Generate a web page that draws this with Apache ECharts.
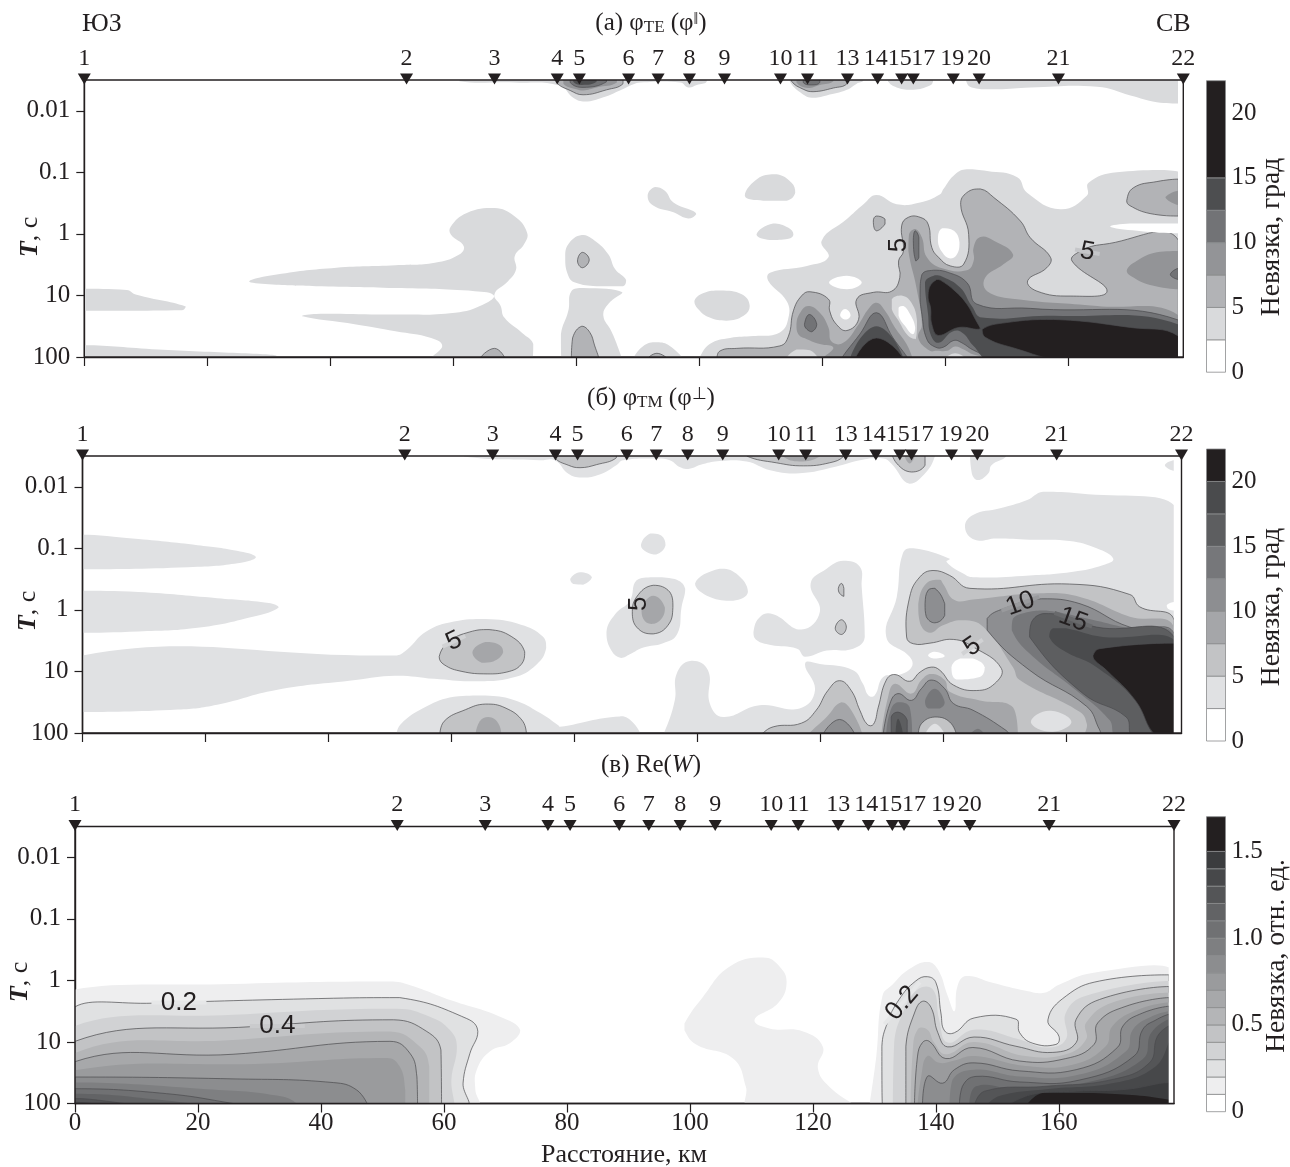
<!DOCTYPE html>
<html><head><meta charset="utf-8">
<style>html,body{margin:0;padding:0;background:#fff}#c{width:1290px;height:1167px}</style>
<script src="https://cdn.jsdelivr.net/npm/echarts@6/dist/echarts.min.js"></script>
</head><body><div id="c"></div>
<script>
// Each contour: [band index, [km, log10(T), km, log10(T), ...]]
const stationLabels=['1','2','3','4','5','6','7','8','9','10','11','13','14','15','17','19','20','21','22'];
const stationKm=[0,52.4,66.7,76.9,80.5,88.5,93.3,98.4,104.1,113.2,117.6,124.1,129,132.9,134.8,141.3,145.5,158.4,178.7];
const periodTicks=[-2,-1,0,1,2];
const periodLabels=['0.01','0.1','1','10','100'];
const kmTicks=[0,20,40,60,80,100,120,140,160];

const aEdges=[0,2.5,5,7.5,10,12.5,15,22.5];
const aTones=['#ffffff','#d9dadc','#b2b3b6','#939497','#727376','#4d4e50','#231f20'];
const aBarTicks=[0,5,10,15,20];
const bEdges=[0,2.5,5,7.5,10,12.5,15,17.5,20,22.5];
const bTones=['#ffffff','#e0e1e3','#c2c3c5','#a5a6a9','#8d8e91','#76777a','#5d5e60','#4a4b4d','#231f20'];
const bBarTicks=[0,5,10,15,20];
const cEdges=[0,.1,.2,.3,.4,.5,.6,.7,.8,.9,1,1.1,1.2,1.3,1.4,1.5,1.7];
const cTones=['#ffffff','#eeeeef','#e0e1e2','#d1d2d4','#c2c3c5','#b4b5b7','#a7a8aa','#9a9b9d','#8c8d8f','#7e7f81','#707173','#626365','#545557','#47484a','#3b3c3e','#231f20'];
const cBarTicks=[0,.5,1,1.5];

const aContours=[
[1,[0,.89,6.9,.91,8.5,.99,16.5,1.18,15.9,1.24,0,1.25]],
[1,[0,1.81,12,1.88,31.3,1.98,0,2.05]],
[1,[26.8,.77,31.3,.66,41,.55,50.6,.51,57,.47,60.9,.34,61.7,.2,59.6,.01,59.6,-.12,62.2,-.34,66.7,-.42,69.9,-.29,72,-.02,71.5,.17,70,.36,70.2,.58,68.9,.77,66.7,.98,67.7,1.17,68.3,1.36,71.2,1.61,73,1.79,72.8,2.05,56.4,2.05,58.2,1.82,56.4,1.69,50.6,1.58,44.2,1.47,35.5,1.34,37.7,1.3,50.6,1.31,60.3,1.28,64.8,1.15,66.6,1,63.5,.93,50.6,.88,37.7,.85,30,.82]],
[2,[64.2,2.05,66.7,1.86,68.5,2.05]],
[1,[80.9,.02,83,.11,85.2,.33,86.3,.57,88.1,.75,87.6,.85,83.3,.85,79.8,.79,78.7,.68,78.2,.38,78.7,.17]],
[2,[81,.3,82.1,.42,81,.55,80.2,.44]],
[1,[79.2,.93,81.1,.88,87.5,.95,85.2,1.14,84.4,1.33,85.7,1.58,86.8,1.85,87.3,2.04,77.6,2.04,77.5,1.63,78.7,1.25]],
[2,[79.2,2.04,79.4,1.69,80.9,1.5,82.2,1.6,83,1.82,83.7,2.04]],
[1,[89.2,2.04,90.9,1.82,93.1,1.76,95.2,1.82,97.4,2.04]],
[2,[91.5,2.04,93.1,1.94,94.9,2.04]],
[1,[91.6,-.62,92.8,-.76,94.4,-.7,95.8,-.51,99,-.37,99.5,-.32,98.2,-.25,95.8,-.35,92.5,-.46]],
[1,[99.2,1.09,100.7,.96,103.4,.92,106.9,.98,108.2,1.17,107.2,1.33,104.4,1.41,101.7,1.36,99.8,1.22]],
[1,[107.4,-.62,109.8,-.92,112.6,-.97,115,-.83,115.6,-.67,114.2,-.54,110.4,-.54]],
[1,[109.3,.01,112,-.17,114.5,-.1,115.3,.01,114.5,.08,111.5,.1]],
[1,[99.8,2.04,101.7,1.79,105,1.69,108.8,1.66,113.1,1.6,114.5,1.36,114.2,1.09,111.2,.76,111.5,.63,117.5,.52,121,.38,119.9,.11,124,-.24,126.7,-.48,128.8,-.63,132.1,-.48,135.9,-.51,139.1,-.64,139.7,-.73,141.6,-.97,143.5,-1.05,146.8,-1.02,151.7,-.92,153.3,-.67,158.7,-.4,163,-.62,163.3,-.83,167.9,-1,177.9,-1.01,177.9,2.05,99.8,2.05]],
[2,[128.3,-.21,128.8,-.29,130.2,-.24,130.2,-.16,128.8,-.05]],
[2,[102.8,2.04,103.4,1.9,106.1,1.86,113.1,1.82,114.5,1.66,115.3,1.25,116.6,1.01,118,.94,121,1.06,121.2,1.25,122.3,1.47,124,1.57,125.9,1.39,125.6,1.06,128.3,.95,131.3,.93,132.6,.71,132.4,.44,133.2,.28,132.9,-.13,134,-.27,135.9,-.27,137.2,-.16,137.8,.22,138.9,.38,140.8,.52,143,.49,143.8,.01,142.5,-.48,143.5,-.67,145.7,-.73,147.9,-.59,152.2,-.21,153.8,.06,157.1,.38,156.5,.55,153.4,.76,154.9,.93,160.3,1.01,166.3,.93,160.6,.44,162,.28,165.7,.17,177.9,.1,177.9,2.05,103,2.05]],
[2,[169.5,-.54,170.6,-.75,174.4,-.85,177.9,-.89,177.9,-.29,173.3,-.33,170,-.46]],
[3,[175.8,-.6,177.9,-.7,177.9,-.47,176.3,-.54]],
[1,[131.3,1.06,132.9,1,134.5,1.12,135.4,1.41,135.2,1.71,134,1.66,132.4,1.41,131.3,1.22]],
[1,[114,2.05,115.8,1.88,118,1.89,119.5,2.05]],
[1,[140.3,2,141.6,1.94,143,2]],
[0,[166.8,-.12,170,-.17,177.9,-.17,177.9,-.01,171.2,-.05]],
[0,[138.8,.09,139.5,-.09,141.4,-.05,142.3,.14,141.9,.33,140.8,.4,139.5,.3]],
[0,[121.1,.79,123.96,.68,126.4,.79,124,.9]],
[0,[122.9,1.32,123.7,1.22,124.6,1.32,123.8,1.39]],
[0,[132.4,1.2,133.2,1.17,134.3,1.31,135.1,1.52,134.7,1.63,133.4,1.49,132.4,1.33]],
[3,[115.8,1.47,116.4,1.28,117.7,1.17,119.6,1.28,121,1.52,121.5,1.75,123.4,1.77,125.9,1.47,127.5,1.22,128.8,1.12,130.2,1.25,131.8,1.52,133.7,1.79,134.7,2.04,120.2,2.04,121.8,1.85,119.6,1.79,117.5,1.71,116.1,1.63]],
[4,[117.1,1.47,117.9,1.31,119.1,1.47,118.3,1.59,117.5,1.55]],
[4,[123.1,2.05,126.1,1.63,128.8,1.28,131.5,1.69,134,2.05]],
[5,[124.5,2.05,128.8,1.5,133.2,2.05]],
[6,[125.3,2.05,128.8,1.69,133.2,2.05]],
[3,[134.1,.01,135.1,-.08,136.2,.06,137,.38,139.5,.56,143.5,.59,144.6,.44,144.6,.22,145.7,.05,147.9,.11,151,.33,149.5,.49,146.5,.71,146.8,.93,151.7,1.06,164.7,1.17,177.9,1.32,177.9,2.05,149.5,2.05,144.6,1.96,143,1.88,141.6,1.83,140.3,1.9,138.6,1.9,137.5,1.9,135.6,1.69,136.2,1.47,135.3,.87,134,.28]],
[3,[169.5,.6,171.1,.44,174.4,.3,177.9,.28,177.9,.9,173.3,.83,170.6,.71]],
[4,[176.6,.66,177.9,.56,177.9,.74]],
[4,[134.8,.11,135.1,-.05,135.7,.06,135.7,.38,135.2,.44]],
[4,[136.2,.66,138.1,.59,140,.61,143.5,.79,145.1,1.14,153.8,1.21,177.9,1.4,177.9,2.05,148.9,2.05,144.6,1.89,142.7,1.77,141.4,1.73,139.7,1.84,138.4,1.84,137,1.71,136.2,1.31,135.9,.98]],
[5,[136.7,.79,138.3,.67,139.2,.68,142.4,.87,144.3,1.17,146,1.36,157.6,1.33,177.9,1.47,177.9,2.05,147.3,2.05,144.6,1.82,142.7,1.6,141.1,1.59,138.9,1.77,137.6,1.63,137.2,1.31]],
[6,[137.4,.87,138.6,.74,139.2,.75,141.6,.93,143.5,1.14,144.9,1.39,145.7,1.54,142.2,1.52,138.9,1.65,137.8,1.47,137.6,1.2,137.2,1.04]],
[6,[146,1.55,150,1.44,157.6,1.39,170.1,1.52,177.9,1.66,177.9,2.05,159.2,2.05,151,1.85,146.5,1.68]],
[1,[61,-2.6,61,-2.48,70,-2.46,77.3,-2.41,79.5,-2.21,81.4,-2.15,84.4,-2.22,87.1,-2.33,89.3,-2.43,90.4,-2.46,96.9,-2.46,98.2,-2.38,99.6,-2.42,101.2,-2.47,101.2,-2.6]],
[2,[76.8,-2.46,79,-2.33,81.1,-2.26,84.9,-2.34,87.6,-2.44,87.6,-2.6,76.8,-2.6]],
[3,[77.9,-2.44,80,-2.35,81.1,-2.33,83.3,-2.38,86.6,-2.46,86.6,-2.6,77.9,-2.6]],
[4,[79,-2.46,81.1,-2.38,84.9,-2.47,84.9,-2.6,79,-2.6]],
[5,[79.5,-2.47,80.9,-2.42,83.3,-2.47,83.3,-2.6,79.5,-2.6]],
[1,[114.7,-2.48,116.4,-2.3,118.3,-2.21,120.7,-2.25,124,-2.34,125.6,-2.44,126.7,-2.49,126.7,-2.6,114.7,-2.6]],
[2,[115,-2.48,116.9,-2.35,118.5,-2.31,121.8,-2.37,124,-2.44,124,-2.6,115,-2.6]],
[3,[115.8,-2.46,117.7,-2.37,119.6,-2.42,121.8,-2.48,121.8,-2.6,115.8,-2.6]],
[4,[116.9,-2.46,118.3,-2.42,119.6,-2.46,119.6,-2.6,116.9,-2.6]],
[1,[130.7,-2.48,132.1,-2.38,134.8,-2.34,137.5,-2.41,138,-2.48,138,-2.6,130.7,-2.6]],
[1,[143.4,-2.48,144.3,-2.38,148.4,-2.35,153.8,-2.38,164.7,-2.39,170.1,-2.25,174.4,-2.14,177.9,-2.12,177.9,-2.6,143.4,-2.6]]
];
// Contour captions: [km, log10(T), text, tilt, tone of the break in the line]
const aNotes=[[132.5,.18,'5',90,null],[163.1,.29,'5',-10,'#c5c6c9']];

const bContours=[
[1,[0,-1.22,9.1,-1.15,18.7,-1.05,25.1,-.96,28.2,-.86,26.4,-.78,18.7,-.7,0,-.66]],
[1,[0,-.31,9.1,-.29,21.9,-.19,30.3,-.11,31.9,-.04,27.7,.11,18.7,.29,9.1,.35,0,.37]],
[1,[0,.74,50.8,.74,52.7,.65,55.9,.35,60.4,.19,65.5,.15,71.3,.24,74.8,.43,75.4,.62,73.8,.89,70,1.1,63.6,1.16,57.2,1.12,50.8,1.07,44.4,1.14,31.5,1.3,21.9,1.54,15.5,1.62,0,1.66]],
[2,[58,.76,59.7,.51,62.9,.36,66.1,.32,69.7,.43,71.9,.68,71.3,.89,69,1.01,65.8,1.04,61.7,1,58.8,.89]],
[3,[63.4,.69,65.5,.52,67.8,.57,68.4,.69,66.8,.84,64.9,.86]],
[1,[51.7,1.86,55.9,1.57,60.4,1.41,65.5,1.39,70,1.46,74.5,1.68,77.4,1.88,77.6,1.9,87.4,1.73,89.5,1.83,90.9,2.05,51,2.05]],
[2,[58.1,2.05,58.8,1.81,62.3,1.62,65.5,1.53,68.7,1.59,71.6,1.81,72.2,2.05]],
[3,[63.9,2.05,64.6,1.81,66,1.74,67.6,1.84,68.1,2.05]],
[1,[79.3,-.5,80.9,-.61,82.8,-.53,81.4,-.41,79.8,-.42]],
[1,[90.8,-1.05,92.3,-1.24,94.1,-1.21,94.8,-1.05,93.3,-.9,91.7,-.94]],
[1,[85.2,.36,86.6,.07,89,-.15,90.1,-.48,92.8,-.53,96.3,-.5,98,-.34,97.4,-.04,96.7,.39,94.4,.54,91.2,.61,89,.72,87.6,.78,86,.66]],
[2,[89.4,.07,90.1,-.21,92.8,-.4,95.5,-.29,96,-.04,95.2,.25,92.8,.39,90.4,.31]],
[3,[90.9,-.02,92.8,-.23,94.7,-.04,94.1,.15,92.5,.23,91.2,.15]],
[1,[99.6,-.43,103.6,-.67,106.3,-.59,108.2,-.29,105.8,-.15,102,-.21]],
[1,[109.1,.36,110.2,.11,112.3,.07,116.9,.32,119.9,.03,118.4,-.43,121,-.67,123.7,-.8,126.4,-.7,126.7,-.37,127.2,.44,125.3,.63,121,.66,117.5,.76,116.2,.63,111.9,.57,109.6,.49]],
[2,[122.9,-.35,123.4,-.43,123.8,-.35,123.8,-.22,123.1,-.27]],
[2,[122.4,.3,123.4,.16,124.2,.28,123.4,.4]],
[1,[94.4,2.04,96.3,1.47,96.6,1.04,98.8,.83,101.7,.98,102,1.52,104.2,1.74,110.1,1.55,116.6,1.6,119.1,1.31,117.5,.87,119.9,.88,125.3,.98,126.9,1.2,127.8,1.39,128.8,1.39,130.2,1.09,132.6,1.06,134.8,.93,134.5,.76,130.7,.44,132.4,-.21,133.4,-.92,135.1,-1,141,-.83,140.5,-.78,143.2,-.59,144.8,-.53,154,-.56,161.1,-.62,166,-.73,167.6,-.83,164.9,-1,160.5,-1.12,154,-1.14,148.6,-1.16,145.1,-1.14,143.5,-1.34,144.8,-1.54,149.2,-1.65,153.5,-1.78,156.2,-1.92,162.2,-1.89,177.5,-1.7,177.5,2.05,94,2.05]],
[0,[176.3,-.08,177.5,-.13,177.5,.01,176.5,-.02]],
[0,[137.5,.74,138.6,.68,140.2,.75,138.6,.79]],
[0,[141.3,.93,142.7,.79,144.8,.79,146.7,.93,145.9,1.09,142.1,1.13]],
[2,[110.1,2.04,112.3,1.9,116.9,1.84,119.3,1.63,121.2,1.31,123.1,1.15,125,1.31,126.4,1.63,127.6,1.86,128.6,1.86,129.4,1.58,130.7,1.14,132.1,1.05,134.5,1.16,136.2,1.01,138,.93,139.4,.98,141.6,1.22,145.4,1.31,148.3,1.2,149.4,.95,144.8,.6,141.6,.48,137.8,.54,135.1,.55,134,.44,134.5,-.21,136.2,-.54,138.3,-.64,141,-.56,144.3,-.35,160.5,-.42,170.3,-.25,171.9,-.05,177.5,.17,177.5,2.05,110,2.05]],
[1,[154.2,1.82,157.2,1.64,160.8,1.82,157.5,1.98]],
[3,[135.9,-.1,137.2,-.43,139.4,-.49,139.9,-.43,141.8,-.16,144.8,-.17,155.7,-.27,162.2,-.21,170.3,.11,177.5,.29,177.5,2.05,163.3,2.05,163.3,1.85,162.2,1.66,152.4,1.14,151.3,.93,146.5,.28,143.2,.17,139.9,.25,137.8,.37,136.2,.22]],
[4,[137,-.1,137.5,-.32,138.6,-.35,140.2,-.1,140.2,.09,138.6,.21,137.2,.11]],
[4,[155.9,-.18,162.2,-.1,170.3,.28,177.5,.39,177.5,2.05,166,2.05,165.4,1.95,163.3,1.57,154,.98,147.1,.33,147.1,.14,149.8,-.02]],
[5,[151.3,.14,154,.03,156.7,.01,163.3,.14,170.3,.3,177.5,.41,177.5,2.05,168.1,2.05,167,1.79,161.6,1.31,154,.71,151.1,.33]],
[6,[154.3,.2,156.2,.06,159.5,.09,164.9,.28,177.5,.44,177.5,2.05,170.8,2.05,169.7,1.74,162.7,1.36,154,.44]],
[7,[157.2,.44,157.8,.3,159.9,.3,165.9,.44,177.5,.49,177.5,2.05,174.4,2.05,171.7,1.52,164.9,.93,159.5,.66]],
[8,[164.3,.74,165.4,.63,177.5,.54,177.5,2.05,174.6,2.05,171.2,1.47,166.5,.98,164.6,.82]],
[3,[118,2.04,121,1.74,123.4,1.5,125,1.63,126.8,2.04]],
[4,[120.4,2.04,123.1,1.78,125.6,2.04]],
[3,[129.9,2.04,131,1.41,132.1,1.2,134.8,1.36,136.4,1.14,138,1.04,140.2,1.14,141,1.33,145.9,1.47,151.3,1.58,152.1,2.04]],
[4,[130.2,2.04,131.3,1.52,132.6,1.36,134.8,1.47,136.4,1.28,138,1.14,140.2,1.28,141.6,1.52,144.8,1.63,150.2,1.96,150.8,2.04]],
[5,[130.7,2.04,131.4,1.63,132.6,1.5,134.5,1.58,134.9,2.04]],
[5,[137,1.47,138.6,1.28,140.2,1.5,139.4,1.6,137.5,1.6]],
[6,[131.5,2.04,131.5,1.74,132.6,1.66,134.1,1.79,134.1,2.04]],
[7,[132.2,2.04,132.6,1.77,133.4,2.04]],
[2,[135.9,2.04,136.4,1.85,138.6,1.74,141,1.82,142.1,2.04]],
[1,[137,2.04,138.6,1.85,140.2,2.04]],
[5,[144.3,2.04,145.6,1.93,146.7,2.04]],
[1,[62,-2.6,62,-2.49,74.4,-2.43,76.8,-2.43,79,-2.21,81.1,-2.15,84.1,-2.2,86.8,-2.35,87.9,-2.43,93.1,-2.46,95.5,-2.43,97.1,-2.32,98.5,-2.29,100.9,-2.37,103.6,-2.42,108,-2.41,111.8,-2.27,116.6,-2.22,122.6,-2.33,126.4,-2.43,130.2,-2.46,131.5,-2.38,134.5,-2.05,137.2,-2.24,138.6,-2.49,138.6,-2.6]],
[1,[144.3,-2.6,144.6,-2.22,145.6,-2.11,147.3,-2.22,147.8,-2.35,150.2,-2.49,150.2,-2.6]],
[1,[176,-2.35,177.5,-2.43,177.5,-2.26]],
[2,[76.8,-2.47,79,-2.35,80.9,-2.31,83.6,-2.36,86.8,-2.47,86.8,-2.6,76.8,-2.6]],
[2,[108,-2.5,112.8,-2.39,117.2,-2.34,121.5,-2.39,123.7,-2.49,123.7,-2.6,108,-2.6]],
[3,[113.9,-2.49,116.6,-2.41,119.9,-2.49,119.9,-2.6,113.9,-2.6]],
[2,[131.5,-2.6,132.4,-2.38,134.8,-2.24,137,-2.35,137,-2.6]],
[3,[133.4,-2.6,134.5,-2.38,135.6,-2.6]]
];
const bNotes=[[60.4,.51,'5',25,'#d1d2d4'],[90.4,-.1,'5',90,null],[152.5,-.1,'10',20,'#999a9d'],[161.1,.16,'15',-20,'#696a6c'],[144.7,.6,'5',35,'#d1d2d4']];

const cContours=[
[1,[0,.15,25.7,.06,51.2,.02,54.5,.08,61,.32,69.1,.59,72.4,.81,70.7,1.02,67.5,1.15,65.3,1.46,65.1,1.78,65.5,2.05,0,2.05]],
[2,[0,.43,12.7,.37,42,.29,52.8,.28,63.7,.62,65.5,.83,64.2,1.19,63.1,1.67,63.5,2.05,0,2.05]],
[3,[0,.74,25.7,.56,52.3,.46,57.7,.59,61,.81,62.1,1.08,61.2,1.62,61.5,2.05,0,2.05]],
[4,[0,.99,29,.75,51.8,.64,57.2,.83,59.5,1.13,59.6,2.05,0,2.05]],
[5,[0,1.18,25.7,.97,51.2,.83,56.1,1.08,57.6,1.4,57.6,2.05,0,2.05]],
[6,[0,1.32,25.7,1.2,51.2,.99,54.5,1.19,55.6,1.57,55.7,2.05,0,2.05]],
[7,[0,1.46,31.2,1.35,50.7,1.26,52.8,1.4,53.7,1.78,53.7,2.05,0,2.05]],
[8,[0,1.57,25.7,1.6,42,1.66,45.8,1.78,47.7,2.05,0,2.05]],
[9,[0,1.66,20.3,1.76,33.9,1.89,36.6,2.05,0,2.05]],
[10,[0,1.76,14.9,1.84,25.7,2,27.9,2.05,0,2.05]],
[11,[0,1.84,14.9,1.95,21.4,2.05,0,2.05]],
[12,[0,1.92,4.1,1.95,10.6,2.05,0,2.05]],
[13,[0,1.97,5.7,2.05,0,2.05]],
[1,[99.1,.7,102.1,.27,106.4,-.22,111.9,-.37,114.6,-.22,115.7,.05,114.3,.37,110.5,.64,112.9,.78,118.4,.83,121.6,1.08,120.8,1.43,122.7,1.73,127,2.05,109.4,2.05,109.1,1.73,107,1.27,101,1.04,99.1,.81]],
[1,[129.2,2.05,130.3,1.23,131.3,.25,132.9,.07,135.6,-.18,138.6,-.3,140.3,-.18,141.9,.25,143,.5,143.5,.09,144.9,-.07,149.2,.04,154.6,.17,157.6,.2,160,.07,165.4,-.12,177.9,-.21,177.9,2.05]],
[2,[131.3,2.05,131.2,1.07,132.1,.69,134,.31,136.7,.01,138.6,-.06,140,.04,140.8,.53,141.4,.82,143,.85,146.2,.61,153,.63,153.6,.85,155.7,1.02,159.5,1.04,160,.91,158.2,.64,161.2,.25,166.6,.01,177.9,-.09,177.9,2.05]],
[3,[133,2.05,133.2,1.01,134.6,.53,137,.15,139.5,.15,140.5,.63,141.9,1.01,146.2,.8,153.6,.96,157.9,1.09,161.1,.96,161.1,.53,164.4,.25,177.9,.01,177.9,2.05]],
[4,[135.1,2.05,135.1,1.07,136.5,.53,137.8,.34,139.2,.44,140.3,.85,141.9,1.08,146.2,.92,153,1.07,159,1.17,162.8,1.01,162.8,.63,166.6,.31,177.9,.1,177.9,2.05]],
[5,[135.9,2.05,136.2,1.18,137,.8,138.6,.8,139.7,1.01,141.6,1.2,146.2,1,154.6,1.23,161.1,1.2,164.4,.96,164.4,.69,168.7,.36,177.9,.2,177.9,2.05]],
[6,[136.5,2.05,137,1.23,137.8,1.01,138.9,.99,141.6,1.27,146,1.09,153.6,1.31,161.1,1.27,165.7,1.04,166.3,.69,170.9,.42,177.9,.28,177.9,2.05]],
[7,[137,2.05,137.6,1.56,138.6,1.23,140.5,1.34,142.7,1.31,146.2,1.23,154.6,1.39,162.2,1.37,167.6,1.07,168.7,.74,173,.47,177.9,.36,177.9,2.05]],
[8,[137.8,2.05,138.6,1.56,141.1,1.67,143,1.45,146.2,1.34,153.6,1.47,162.8,1.45,169.5,1.09,170.4,.74,173.6,.53,177.9,.42,177.9,2.05]],
[9,[142.2,2.05,142.7,1.61,146.2,1.45,153.6,1.56,163.3,1.53,170.9,1.15,172,.8,175.2,.58,177.9,.5,177.9,2.05]],
[10,[143.8,2.05,144.3,1.72,146.5,1.56,153.6,1.65,163.3,1.62,172.2,1.23,173.6,.8,176,.63,177.9,.55,177.9,2.05]],
[11,[145.4,2.05,146.5,1.72,153.6,1.77,164.4,1.66,173.6,1.28,175,.85,177.9,.63,177.9,2.05]],
[12,[146.2,2.05,147.9,1.8,157.9,1.72,168.7,1.61,174.7,1.34,176,.91,177.9,.74,177.9,2.05]],
[13,[148.1,2.05,150.3,1.88,157.9,1.77,169.3,1.66,175.8,1.39,177.9,1.01,177.9,2.05]],
[14,[151.4,2.05,155.7,1.85,162.8,1.8,170.9,1.77,177.9,1.66,177.9,2.05]],
[15,[154.6,2.05,157.3,1.83,165.5,1.83,177.9,1.94,177.9,2.05]]
];
const cNotes=[[16.9,.36,'0.2',0,'#e6e7e8'],[32.9,.74,'0.4',0,'#cacbcd'],[134.5,.37,'0.2',50,'#e6e7e8']];

const serif='"Liberation Serif","Times New Roman",serif';
const sans='"Liberation Sans",Arial,sans-serif';
const ink='#231f20';
const panels=[
 {c:aContours,n:aNotes,t:aTones,e:aEdges,bt:aBarTicks,left:84.3,top:80,edge:177.84,barTop:80.7,barH:291.5,max:22.5,fmt:v=>String(v)},
 {c:bContours,n:bNotes,t:bTones,e:bEdges,bt:bBarTicks,left:82.5,top:456,edge:177.44,barTop:449,barH:292,max:22.5,fmt:v=>String(v)},
 {c:cContours,n:cNotes,t:cTones,e:cEdges,bt:cBarTicks,left:75,top:826.5,edge:177.84,barTop:816.7,barH:295,max:1.7,fmt:v=>v===0?'0':v.toFixed(1)}
];
const labelShift={'14':-2,'15':-2,'17':10,'19':-1};
const XMAX=178.7, YMIN=-2.5, YMAX=2;
const grid=[],xAxis=[],yAxis=[],series=[];
panels.forEach((p,i)=>{
 const last=i===2;
 grid.push({left:p.left,top:p.top,width:1099,height:277,containLabel:false});
 xAxis.push({type:'value',gridIndex:grid.length-1,min:0,max:XMAX,splitLine:{show:false},
  axisLine:{show:true,onZero:false,lineStyle:{color:ink,width:1.4}},
  axisTick:{show:true,length:9,lineStyle:{color:ink,width:1.2},customValues:kmTicks},
  axisLabel:{show:last,customValues:kmTicks,fontFamily:serif,fontSize:25,color:ink,margin:7,formatter:v=>String(v)}});
 yAxis.push({type:'value',gridIndex:grid.length-1,min:YMIN,max:YMAX,inverse:true,splitLine:{show:false},
  axisLine:{show:true,onZero:false,lineStyle:{color:ink,width:1.4}},
  axisTick:{show:true,length:8,lineStyle:{color:ink,width:1.2},customValues:periodTicks},
  axisLabel:{show:true,customValues:periodTicks,fontFamily:serif,fontSize:25,color:ink,margin:14,formatter:v=>periodLabels[periodTicks.indexOf(v)]}});
 const gi=grid.length-1;
 series.push({type:'custom',xAxisIndex:gi,yAxisIndex:gi,clip:true,silent:true,animation:false,z:2,
  data:p.c.map((c,k)=>[k]),encode:{x:[],y:[]},
  renderItem:(params,api)=>{
   const item=p.c[params.dataIndex],band=item[0],v=item[1],pts=[];
   let x0=1e9,y0=1e9,x1=-1e9,y1=-1e9;
   for(let k=0;k<v.length;k+=2){const q=api.coord([v[k],v[k+1]]);pts.push(q);
    x0=Math.min(x0,q[0]);x1=Math.max(x1,q[0]);y0=Math.min(y0,q[1]);y1=Math.max(y1,q[1]);}
   const lined=band>0&&band%2===0;
   return {type:'polygon',shape:{points:pts,smooth:0.45,smoothConstraint:[[x0,y0],[x1,y1]]},
    style:{fill:p.t[band],stroke:lined?'#4b4b4d':null,lineWidth:lined?0.7:0}};
  }});
 series.push({type:'custom',xAxisIndex:gi,yAxisIndex:gi,clip:false,silent:true,animation:false,z:3,
  data:[[p.edge]],encode:{x:[],y:[]},
  renderItem:(params,api)=>{
   const a=api.coord([p.edge,YMIN]),b=api.coord([XMAX,YMAX]),l=api.coord([0,YMIN]);
   return {type:'group',children:[
    {type:'rect',shape:{x:a[0],y:a[1],width:b[0]-a[0],height:b[1]-a[1]},style:{fill:'#fff'}},
    {type:'rect',shape:{x:l[0],y:a[1],width:b[0]-l[0],height:b[1]-a[1]},style:{fill:'none',stroke:ink,lineWidth:1.4}}
   ]};
  }});
 series.push({type:'scatter',xAxisIndex:gi,yAxisIndex:gi,clip:false,silent:true,animation:false,z:5,
  symbol:'triangle',symbolRotate:180,symbolSize:[13,11],symbolOffset:[0,-1],itemStyle:{color:ink,opacity:1},
  data:stationKm.map((k,j)=>({value:[k,YMIN],name:stationLabels[j],label:{offset:[labelShift[stationLabels[j]]||0,0]}})),
  label:{show:true,position:'top',distance:3,formatter:q=>q.name,fontFamily:serif,fontSize:24,color:ink}});
 series.push({type:'scatter',xAxisIndex:gi,yAxisIndex:gi,clip:false,silent:true,animation:false,z:6,
  symbol:'rect',
  data:p.n.map(n=>({value:[n[0],n[1]],name:n[2],symbolSize:n[4]?[n[2].length*15+10,4]:0,symbolRotate:n[3],
   itemStyle:{color:n[4]||'transparent',opacity:1},label:{rotate:n[3]}})),
  label:{show:true,position:'inside',formatter:q=>q.name,fontFamily:sans,fontSize:26,color:ink}});
 grid.push({left:1206.5,top:p.barTop,width:19,height:p.barH});
 const bi=grid.length-1;
 xAxis.push({type:'value',gridIndex:bi,min:0,max:1,show:false});
 yAxis.push({type:'value',gridIndex:bi,min:0,max:p.max,position:'right',splitLine:{show:false},
  axisLine:{show:false},axisTick:{show:false},
  axisLabel:{show:true,customValues:p.bt,fontFamily:serif,fontSize:25,color:ink,margin:6,formatter:p.fmt}});
 series.push({type:'custom',xAxisIndex:bi,yAxisIndex:bi,silent:true,animation:false,z:2,
  data:p.t.map((t,k)=>[k]),encode:{x:[],y:[]},
  renderItem:(params,api)=>{
   const k=params.dataIndex,a=api.coord([0,p.e[k+1]]),b=api.coord([1,p.e[k]]);
   return {type:'rect',shape:{x:a[0],y:a[1],width:b[0]-a[0],height:b[1]-a[1]},style:{fill:p.t[k],stroke:'#8a8b8d',lineWidth:0.8}};
  }});
});
const titles=[
 {text:'ЮЗ',left:82,top:11,fs:26},{text:'СВ',left:1156,top:11,fs:26},
 {text:'(а) φ{s|TE} (φ{u|‖})',left:651,top:11,textAlign:'center',fs:25},
 {text:'(б) φ{s|TM} (φ{u|⊥})',left:651,top:386,textAlign:'center',fs:25},
 {text:'(в) Re({i|W})',left:651,top:753,textAlign:'center',fs:25},
 {text:'Расстояние, км',left:624,top:1142,textAlign:'center',fs:26}
].map(t=>Object.assign(t,{padding:0,textStyle:{fontFamily:serif,fontSize:t.fs,fontWeight:'normal',color:ink,
  rich:{s:{fontFamily:serif,fontSize:17,color:ink,verticalAlign:'bottom',padding:[8,0,0,0]},
        u:{fontFamily:serif,fontSize:17,color:ink,verticalAlign:'top',padding:[0,0,6,0]},
        i:{fontFamily:serif,fontSize:t.fs,fontStyle:'italic',color:ink}}}}));
const rotated=(x,y,text,size)=>({type:'text',x:x,y:y,rotation:Math.PI/2,z:10,silent:true,
 style:{text:text,fontFamily:serif,fontSize:size,fill:ink,align:'center',verticalAlign:'middle',
  rich:{i:{fontFamily:serif,fontSize:size,fontStyle:'italic',fontWeight:'bold',fill:ink}}}});
const chart=echarts.init(document.getElementById('c'),null,{renderer:'canvas'});
chart.setOption({animation:false,backgroundColor:'#fff',title:titles,grid,xAxis,yAxis,series,
 graphic:[rotated(30,237,'{i|T}, с',26),rotated(28,611,'{i|T}, с',26),rotated(20,982,'{i|T}, с',26),
  rotated(1272,237,'Невязка, град',27.5),rotated(1272,607,'Невязка, град',27.5),rotated(1277,956,'Невязка, отн. ед.',27.5)]});
</script></body></html>
